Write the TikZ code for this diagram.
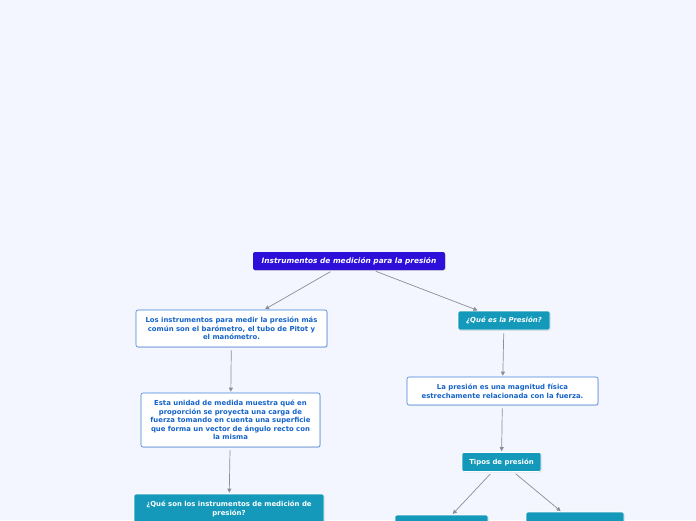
\documentclass[tikz,border=0pt]{standalone}
\usepackage{fontspec}
\setmainfont{DejaVu Sans}
\usetikzlibrary{arrows.meta, positioning, shadows}
\definecolor{mapbg}{HTML}{F3F6FE}
\definecolor{mapmain}{HTML}{2E0FDA}
\definecolor{mapteal}{HTML}{1499BA}
\definecolor{mapblue}{HTML}{3F80D9}
\definecolor{maptext}{HTML}{1563C9}
\definecolor{mapgray}{HTML}{8A8E97}

\begin{document}
\begin{tikzpicture}[x=1pt, y=-1pt,
  every node/.style={font=\fontsize{6.9}{8.6}\selectfont\bfseries, inner sep=2pt},
  main/.style={fill=mapmain, text=white, rounded corners=2pt, font=\fontsize{7.4}{8.6}\selectfont\bfseries\itshape,
               minimum width=192pt, minimum height=18pt, drop shadow={opacity=0.25, shadow xshift=0.6pt, shadow yshift=-0.8pt}},
  topic/.style={fill=mapteal, text=white, rounded corners=2pt, draw=white, line width=0.6pt,
                minimum height=19pt, align=center, drop shadow={opacity=0.25, shadow xshift=0.6pt, shadow yshift=-0.8pt}},
  note/.style={draw=mapblue, fill=white, text=maptext, rounded corners=2pt, line width=0.6pt,
               align=center, drop shadow={opacity=0.2, shadow xshift=0.6pt, shadow yshift=-0.8pt}},
  link/.style={-{Triangle[length=4pt, width=4pt]}, color=mapgray, line width=0.7pt, shorten <=3pt, shorten >=1pt},
]
\useasboundingbox (0,0) rectangle (696,520);
\fill[mapbg] (0,0) rectangle (696,520);

\node[main] (title) at (349,261) {Instrumentos de medición para la presión};
\node[note, minimum width=191pt, minimum height=37pt] (common) at (231.5,328.5)
  {Los instrumentos para medir la presión más\\común son el barómetro, el tubo de Pitot y\\el manómetro.};
\node[topic, minimum width=92pt, font=\fontsize{6.9}{8.6}\selectfont\bfseries\itshape] (what) at (504,320.5) {¿Qué es la Presión?};
\node[note, minimum width=179pt, minimum height=54pt] (unit) at (230.5,420)
  {Esta unidad de medida muestra qué en\\proporción se proyecta una carga de\\fuerza tomando en cuenta una superficie\\que forma un vector de ángulo recto con\\la misma};
\node[note, minimum width=191pt, minimum height=28pt] (magn) at (502.5,391)
  {La presión es una magnitud física\\estrechamente relacionada con la fuerza.};
\node[topic, minimum width=79pt] (types) at (501.5,462) {Tipos de presión};
\node[topic, minimum width=190pt, minimum height=30pt] (instr) at (229,509)
  {¿Qué son los instrumentos de medición de\\presión?};
\node[topic, minimum width=93pt, minimum height=22pt] (abs) at (441.5,526) {};
\node[topic, minimum width=98pt, minimum height=22pt] (gauge) at (575,523) {};

\draw[link] (title) -- (common);
\draw[link] (title) -- (what);
\draw[link] (common) -- (unit);
\draw[link] (unit) -- (instr);
\draw[link] (what) -- (magn);
\draw[link] (magn) -- (types);
\draw[link] (types) -- (abs);
\draw[link] (types) -- (gauge);

\end{tikzpicture}
\end{document}
